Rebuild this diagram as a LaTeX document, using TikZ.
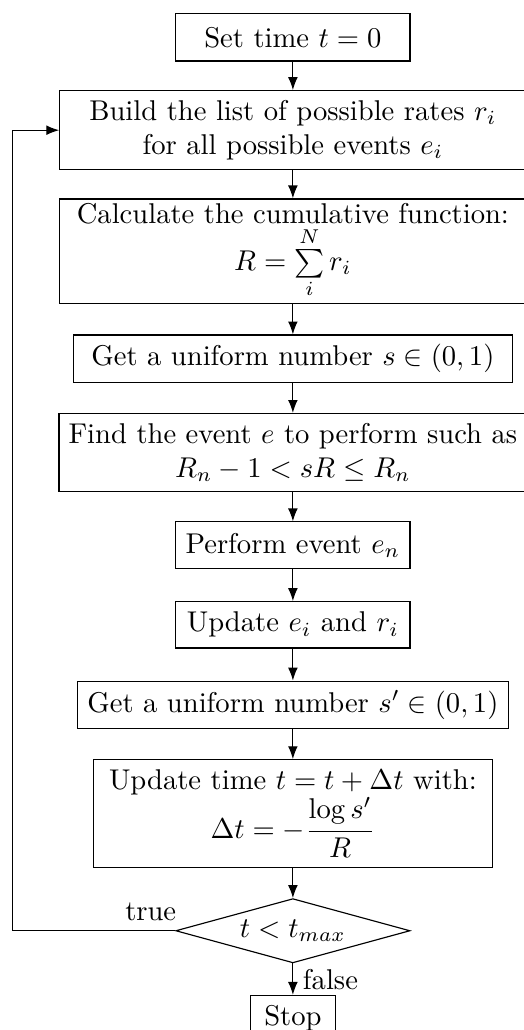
\documentclass[tikz,border=0pt]{standalone}
\usepackage{amsmath}
\usetikzlibrary{shapes.geometric, arrows.meta}

\begin{document}
\begin{tikzpicture}[
        block/.style={
            rectangle, draw, align=center,
            minimum height=0.57cm
        },
        decision/.style={
            diamond, draw, aspect=3.66, inner sep=0pt,
            minimum width=2.88cm, minimum height=0.79cm
        },
        arr/.style={->, >={Latex[length=4.5pt, width=3.4pt]}}
    ]

    \useasboundingbox (-3.60, 0) rectangle (2.83, -12.66);

    % Main chain of steps
    \node[block, minimum width=2.88cm, minimum height=0.58cm] (start) at (0, -0.46)
        {Set time $t=0$};
    \node[block, minimum width=5.73cm, minimum height=0.90cm] (rates) at (0, -1.60)
        {Build the list of possible rates $r_i$\\for all possible events $e_i$};
    \node[block, minimum width=5.73cm, minimum height=1.28cm, inner ysep=1pt] (cumul) at (0, -3.085)
        {Calculate the cumulative function:\\$R=\sum\limits_i^N r_i$};
    \node[block, minimum width=5.40cm] (unif1) at (0, -4.41)
        {Get a uniform number $s\in(0,1)$};
    \node[block, minimum width=5.73cm, minimum height=0.90cm] (find) at (0, -5.56)
        {Find the event $e$ to perform such as\\$R_n-1<sR\leq R_n$};
    \node[block, minimum width=2.88cm] (perform) at (0, -6.70)
        {Perform event $e_n$};
    \node[block, minimum width=2.88cm] (update) at (0, -7.68)
        {Update $e_i$ and $r_i$};
    \node[block, minimum width=5.30cm] (unif2) at (0, -8.665)
        {Get a uniform number $s'\in(0,1)$};
    \node[block, minimum width=4.90cm, minimum height=1.30cm] (dt) at (0, -10.00)
        {Update time $t=t+\Delta t$ with:\\$\Delta t=-\dfrac{\log s'}{R}$};

    % Test and end
    \node[decision] (test) at (0, -11.44) {$t<t_{max}$};
    \node[block, minimum width=1.04cm] (stop) at (0, -12.52) {Stop};

    % Left side of the loop
    \coordinate (loopx) at (-3.45, 0);

    % Arrows down the chain
    \draw[arr] (start) -- (rates);
    \draw[arr] (rates) -- (cumul);
    \draw[arr] (cumul) -- (unif1);
    \draw[arr] (unif1) -- (find);
    \draw[arr] (find) -- (perform);
    \draw[arr] (perform) -- (update);
    \draw[arr] (update) -- (unif2);
    \draw[arr] (unif2) -- (dt);
    \draw[arr] (dt) -- (test);
    \draw[arr] (test) -- (stop)
        node[midway, right] {false};

    % Loop back
    \draw[arr] (test.west) -- node[above, pos=0.15] {true} (test.west -| loopx)
        |- (rates.west);

    \end{tikzpicture}
\end{document}
